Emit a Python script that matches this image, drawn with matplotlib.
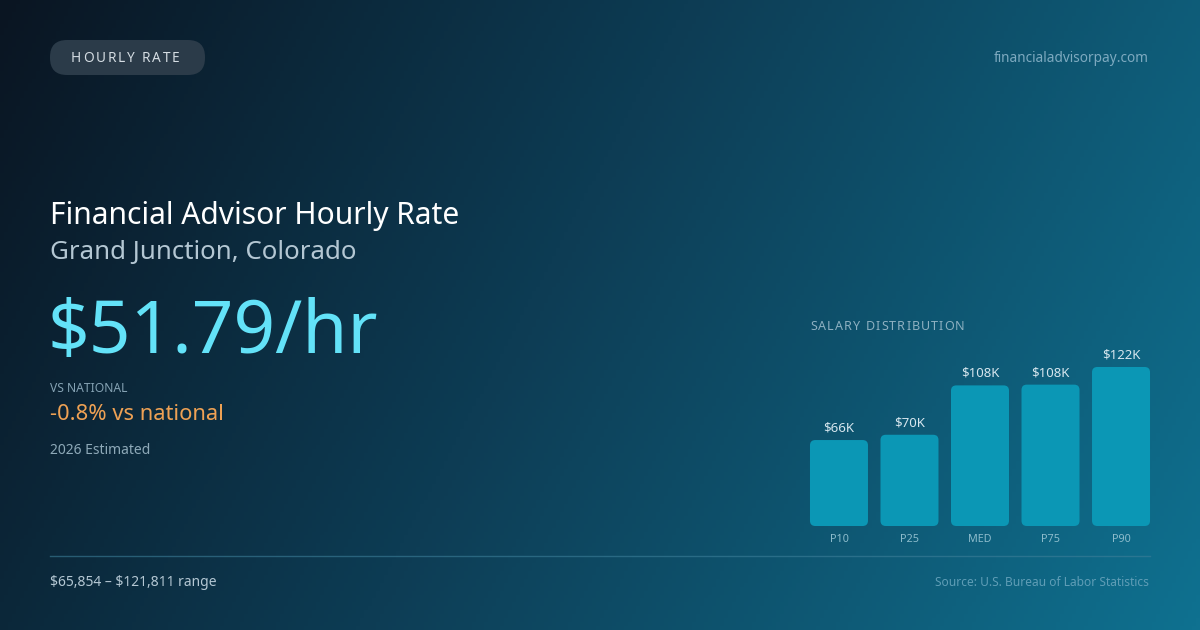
import numpy as np
import matplotlib
matplotlib.use("Agg")
import matplotlib.pyplot as plt
from matplotlib.patches import FancyBboxPatch
from matplotlib.colors import LinearSegmentedColormap

plt.rcParams['font.family'] = ['Noto Sans', 'DejaVu Sans']
plt.rcParams['text.parse_math'] = False

# data
percentiles = ["P10", "P25", "MED", "P75", "P90"]
salaries = [65854, 69900, 107723, 108300, 121811]
bar_labels = ["$66K", "$70K", "$108K", "$108K", "$122K"]
hourly = "$51.79/hr"
vs_national = "-0.8% vs national"
salary_range = "$65,854 – $121,811 range"

W, H = 1200, 630
fig = plt.figure(figsize=(12, 6.3), dpi=100)

# background axes in pixel coords (top-left origin)
bg = fig.add_axes([0, 0, 1, 1])
bg.set_xlim(0, W)
bg.set_ylim(H, 0)
bg.axis("off")

xx, yy = np.meshgrid(np.linspace(0, 1, 300), np.linspace(0, 1, 160))
t = (xx * W * W + yy * H * H) / (W * W + H * H)
cmap = LinearSegmentedColormap.from_list(
    "bg", [(0, "#0a1522"), (0.45, "#0d3c54"), (1, "#0f7190")])
bg.imshow(t, cmap=cmap, extent=[0, W, H, 0], aspect="auto", zorder=0)


def tracked(ax, x, y, s, size, color, spacing, **kw):
    # draw text with letter spacing, char by char
    r = fig.canvas.get_renderer()
    for ch in s:
        tx = ax.text(x, y, ch, fontsize=size, color=color, va="center",
                     ha="left", **kw)
        bb = tx.get_window_extent(renderer=r)
        x += bb.width + spacing
    return x


# pill
bg.add_patch(FancyBboxPatch((50, 40), 155, 35,
                            boxstyle="round,pad=0,rounding_size=17",
                            fc="#2b3b49", ec="none", zorder=2))
tracked(bg, 71, 59, "HOURLY RATE", 9.8, "#d5dde3", 1.8, zorder=3)

bg.text(1149, 59, "financialadvisorpay.com", fontsize=9.8, color="#7eaac0",
        ha="right", va="center")

bg.text(50, 216, "Financial Advisor Hourly Rate", fontsize=21.6, color="#ffffff",
        ha="left", va="center")
bg.text(50, 253, "Grand Junction, Colorado", fontsize=18.6, color="#b4c7d3",
        ha="left", va="center")
bg.text(48, 334, hourly, fontsize=52.5, color="#63e2f8", ha="left", va="center")
bg.text(50, 389, "VS NATIONAL", fontsize=8.7, color="#85a2b3", ha="left",
        va="center")
bg.text(50, 415, vs_national, fontsize=15.8, color="#eea154", ha="left",
        va="center")
bg.text(50, 451, "2026 Estimated", fontsize=10, color="#8ea9b8", ha="left",
        va="center")

bg.plot([50, 1150], [556, 556], color="#3d7f99", lw=1, alpha=0.6, zorder=2)
bg.text(50, 583, salary_range, fontsize=10, color="#b4c7d3", ha="left",
        va="center")
bg.text(1149, 583, "Source: U.S. Bureau of Labor Statistics", fontsize=8.6,
        color="#5f9db6", ha="right", va="center")

tracked(bg, 810, 327, "SALARY DISTRIBUTION", 9, "#8db0c1", 1.1)

# bar chart axes: x 810..1150 px, y 526 (zero) .. 367 (P90 top)
ymax = max(salaries) / 1000
ax = fig.add_axes([810 / W, (H - 526) / H, 340 / W, 159 / H])
ax.set_xlim(-0.411, 4.411)
ax.set_ylim(0, ymax)
ax.axis("off")
ax.patch.set_alpha(0)

bw = 58 / 70.5
px_x = 340 / (4.822)
px_y = 159 / ymax
aspect = px_x / px_y
for i, (v, lab, cat) in enumerate(zip(salaries, bar_labels, percentiles)):
    h = v / 1000
    ax.add_patch(FancyBboxPatch((i - bw / 2, 0), bw, h,
                                boxstyle="round,pad=0,rounding_size=0.075",
                                mutation_aspect=aspect,
                                fc="#0b97b5", ec="none", clip_on=False))
    ax.annotate(lab, (i, h), xytext=(0, 12), textcoords="offset pixels",
                ha="center", va="center", fontsize=9.5, color="#d6e6ee",
                annotation_clip=False)
    ax.annotate(cat, (i, 0), xytext=(0, -14), textcoords="offset pixels",
                ha="center", va="center", fontsize=7.8, color="#8dbccc",
                annotation_clip=False)

fig.savefig("out.png", dpi=100)
